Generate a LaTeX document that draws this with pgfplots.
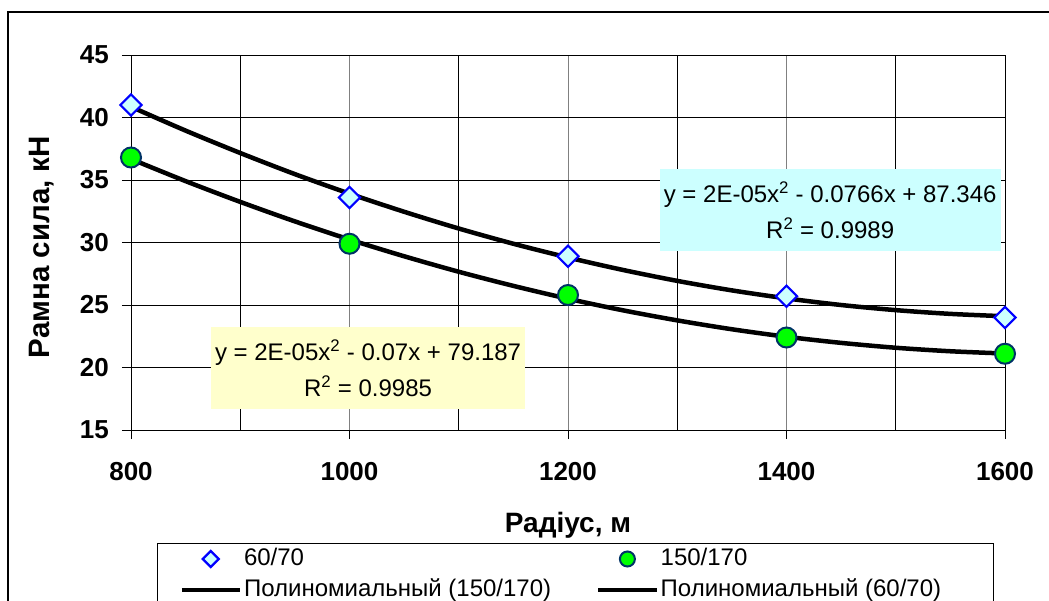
\documentclass[border=0pt]{standalone}
\usepackage{fontspec}
\setmainfont{Liberation Sans}
\usepackage{pgfplots}
\pgfplotsset{compat=1.18}

\definecolor{markblue}{RGB}{0,0,255}
\definecolor{markcyan}{RGB}{204,255,255}
\definecolor{markgreen}{RGB}{0,255,0}
\definecolor{marknavy}{RGB}{0,51,102}
\definecolor{boxcyan}{RGB}{204,255,255}
\definecolor{boxyellow}{RGB}{255,255,204}

\begin{document}
\begin{tikzpicture}
\useasboundingbox (0,0) rectangle (1049bp,-601bp);
\clip (0,0) rectangle (1049bp,-601bp);
% chart area frame
\draw[line width=1.2bp] (8bp,-12bp) rectangle (1100bp,-700bp);
\begin{axis}[
  at={(131bp,-430bp)}, anchor=south west,
  scale only axis, width=874bp, height=375bp,
  xmin=800, xmax=1600, ymin=15, ymax=45,
  xtick={800,1000,...,1600}, minor xtick={900,1100,1300,1500},
  ytick={15,20,...,45},
  scaled ticks=false,
  /pgf/number format/1000 sep={},
  /pgf/number format/assume math mode=true,
  xmajorgrids, xminorgrids, ymajorgrids,
  major x grid style={draw=black!50, line width=1bp},
  minor x grid style={draw=black, line width=1bp},
  major y grid style={draw=black, line width=1bp},
  axis line style={draw=black, line width=1bp},
  tick align=outside, major tick length=9bp, minor tick length=0pt,
  xtick pos=left, ytick pos=left,
  tick style={draw=black, line width=1bp},
  tick label style={font=\fontsize{26bp}{30bp}\selectfont\bfseries, inner sep=0pt},
  xticklabel style={anchor=north, yshift=-23bp},
  yticklabel style={anchor=east, xshift=-13bp},
  xlabel={Радіус, м},
  ylabel={Рамна сила, кН},
  every axis x label/.style={at={(axis description cs:0.5,-0.272)}, anchor=base,
    inner sep=0pt, font=\fontsize{28bp}{32bp}\selectfont\bfseries},
  every axis y label/.style={at={(axis description cs:-0.0927,0.488)}, rotate=90, anchor=base,
    inner sep=0pt, font=\fontsize{29.5bp}{34bp}\selectfont\bfseries},
  legend columns=2,
  legend cell align=left,
  legend style={at={(axis description cs:0.02975,-0.3013)}, anchor=north west,
    draw=black, line width=1bp, fill=white,
    inner xsep=22bp, inner ysep=0bp,
    font=\fontsize{24bp}{28bp}\selectfont,
    nodes={text height=18bp, text depth=5bp, inner ysep=4bp, inner xsep=2bp},
    /tikz/every even column/.append style={column sep=43bp}},
  legend image code/.code={\draw[mark repeat=2,mark phase=2,#1] plot coordinates {(0bp,0bp) (29bp,0bp) (58bp,0bp)};},
  legend image post style={/tikz/every mark/.append style={scale=0.75}},
]
% measured values
\addplot[only marks, mark=square*, mark size=7.5bp,
  mark options={rotate=45, draw=markblue, fill=markcyan, line width=2.2bp}]
  coordinates {(800,41.0) (1000,33.6) (1200,28.9) (1400,25.7) (1600,24.0)};
\addlegendentry{60/70}
\addplot[only marks, mark=*, mark size=10bp,
  mark options={draw=marknavy, fill=markgreen, line width=2bp}]
  coordinates {(800,36.8) (1000,29.9) (1200,25.8) (1400,22.4) (1600,21.1)};
\addlegendentry{150/170}
% second-order polynomial trend lines
\addplot[black, line width=4.5bp, smooth, no marks]
  coordinates {(800,36.68) (850,34.91) (900,33.25) (950,31.69) (1000,30.24)
    (1050,28.90) (1100,27.66) (1150,26.53) (1200,25.50) (1250,24.58)
    (1300,23.77) (1350,23.06) (1400,22.46) (1450,21.97) (1500,21.58)
    (1550,21.30) (1600,21.12)};
\addlegendentry{Полиномиальный (150/170)}
\addplot[black, line width=4.5bp, smooth, no marks]
  coordinates {(800,40.86) (850,38.95) (900,37.16) (950,35.47) (1000,33.91)
    (1050,32.46) (1100,31.12) (1150,29.90) (1200,28.80) (1250,27.81)
    (1300,26.93) (1350,26.17) (1400,25.53) (1450,25.00) (1500,24.59)
    (1550,24.29) (1600,24.10)};
\addlegendentry{Полиномиальный (60/70)\makebox[28bp]{}}
% trend line equations
\node[fill=boxcyan, minimum width=341bp, minimum height=82bp, inner sep=0pt,
  align=center, font=\fontsize{24bp}{36bp}\selectfont]
  at (axis cs:1440,32.6)
  {y = 2E-05x\textsuperscript{2} - 0.0766x + 87.346\\R\textsuperscript{2} = 0.9989};
\node[fill=boxyellow, minimum width=314bp, minimum height=82bp, inner sep=0pt,
  align=center, font=\fontsize{24bp}{36bp}\selectfont]
  at (axis cs:1017,19.96)
  {y = 2E-05x\textsuperscript{2} - 0.07x + 79.187\\R\textsuperscript{2} = 0.9985};
\end{axis}
\end{tikzpicture}
\end{document}
